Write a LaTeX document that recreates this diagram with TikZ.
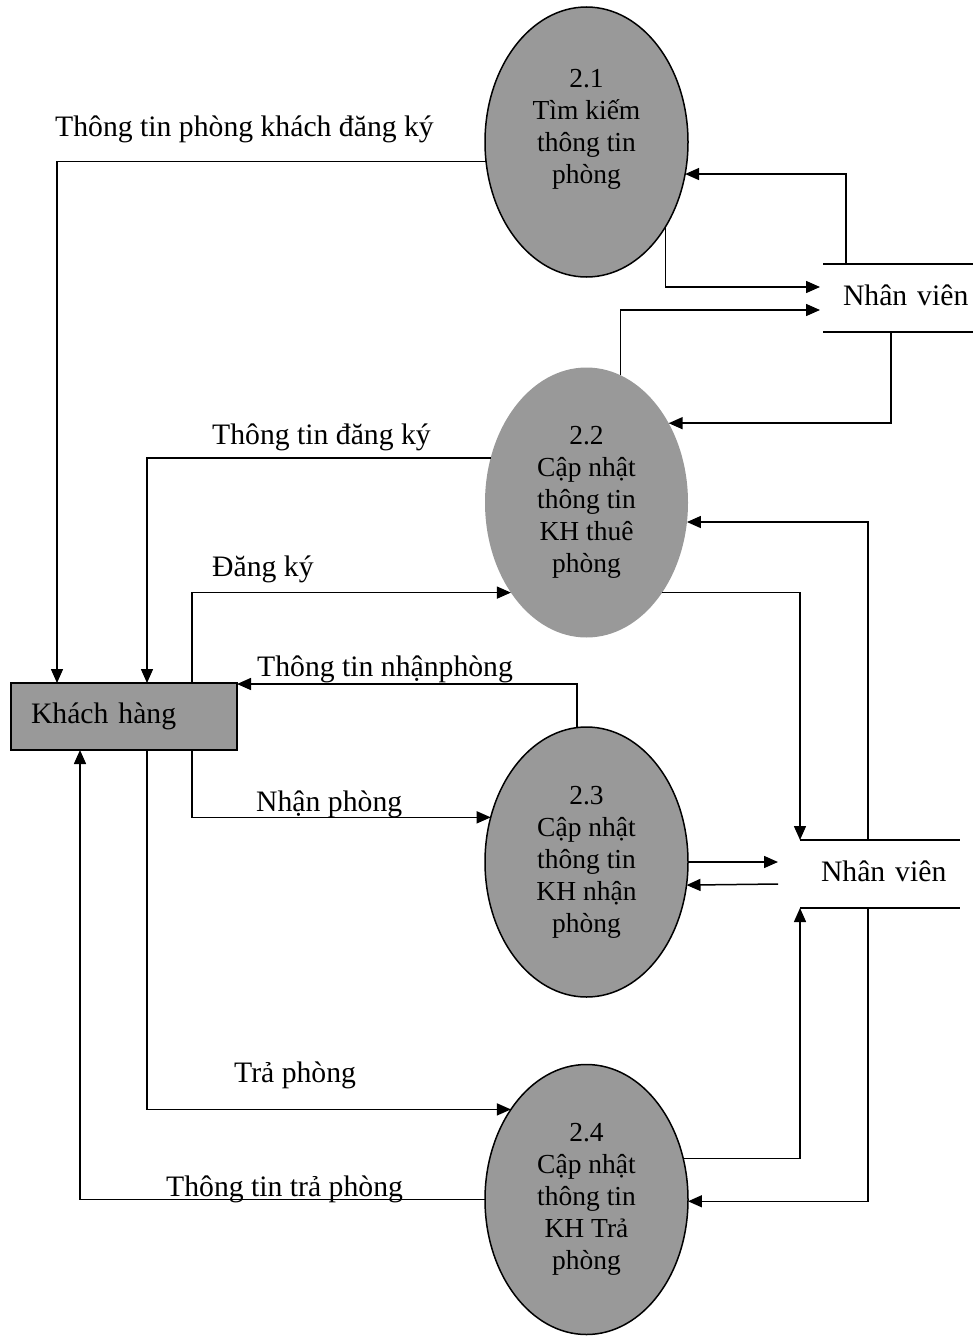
\documentclass[tikz,border=0pt]{standalone}
\usepackage{fontspec}
\setmainfont{Liberation Serif}
\usetikzlibrary{shapes.geometric,arrows.meta}
\definecolor{procfill}{HTML}{999999}
\begin{document}
\begin{tikzpicture}[x=1pt,y=-1pt,
  proc/.style={ellipse, fill=procfill, minimum width=203pt, minimum height=270pt,
    inner sep=0pt, outer sep=0pt, align=center, font=\fontsize{27.5}{32}\selectfont},
  procline/.style={proc, draw=black, line width=1.5pt},
  entity/.style={rectangle, fill=procfill, draw=black, line width=2pt, outer sep=0pt,
    minimum height=67pt, text width=186pt, inner xsep=20pt, align=left,
    font=\fontsize{29.7}{34}\selectfont},
  store/.style={minimum height=68pt, inner xsep=0pt, inner ysep=0pt,
    outer sep=0pt, align=left, font=\fontsize{29.7}{34}\selectfont},
  storeline/.style={line width=1.5pt},
  flowlabel/.style={anchor=base west, inner sep=0pt, font=\fontsize{29.7}{34}\selectfont},
  flow/.style={line width=1.5pt, -{Triangle[length=14pt,width=12pt]}}
]
\useasboundingbox (0,0) rectangle (973,1338);

% processes
\node[procline] (e21) at (586.5,142) {2.1\\Tìm kiếm\\thông tin\\phòng\\\mbox{}};
\node[proc]     (e22) at (586.5,502.5) {2.2\\Cập nhật\\thông tin\\KH thuê\\phòng};
\node[procline] (e23) at (586.5,862) {2.3\\Cập nhật\\thông tin\\KH nhận\\phòng};
\node[procline] (e24) at (586.5,1199.5) {2.4\\Cập nhật\\thông tin\\KH Trả\\phòng};

% external entity
\node[entity] (kh) at (124,716.5) {Khách hàng};

% data stores
\node[store, text width=150pt] (nv1) at (898,298) {\hspace*{20pt}\raisebox{5pt}{Nhân viên}};
\node[store, text width=160pt] (nv2) at (880,874) {\hspace*{21pt}\raisebox{5pt}{Nhân viên}};
\draw[storeline] (nv1.north west) -- (nv1.north east) (nv1.south west) -- (nv1.south east);
\draw[storeline] (nv2.north west) -- (nv2.north east) (nv2.south west) -- (nv2.south east);

% flows
\draw[flow] (e21.191.8) -| ([xshift=-67pt]kh.north);
\draw[flow] ([xshift=-52pt]nv1.north) |- (e21.342.6);
\draw[flow] (e21.313.5) |- ([xshift=-3pt,yshift=11pt]nv1.west);
\draw[flow] (e22.75.3) |- ([xshift=-3pt,yshift=-12pt]nv1.west);
\draw[flow] ([xshift=-7pt]nv1.south) |- (e22.44.6);
\draw[flow] (e22.155.1) -| ([xshift=23pt]kh.north);
\draw[flow] ([xshift=68pt]kh.north) |- (e22.230.8);
\draw[flow] (e23.94.9) |- ([yshift=-1pt]kh.north east);
\draw[flow] ([xshift=68pt]kh.south) |- (e23.155.9);
\draw[flow] (e23.east) -- ([xshift=-22pt,yshift=12pt]nv2.west);
\draw[flow] ([xshift=-22pt,yshift=-10pt]nv2.west) -- (e23.347.6);
\draw[flow] (e22.310.3) -| (nv2.north west);
\draw[flow] ([xshift=-12pt]nv2.north) |- (e22.349);
\draw[flow] ([xshift=23pt]kh.south) |- (e24.130.9);
\draw[flow] (e24.180) -| ([xshift=-44pt]kh.south);
\draw[flow] (e24.23.8) -| (nv2.south west);
\draw[flow] ([xshift=-12pt]nv2.south) |- (e24.359);

% flow labels
\node[flowlabel] (l1) at (55,136) {Thông tin phòng khách đăng ký};
\node[flowlabel] (l2) at (212,444) {Thông tin đăng ký};
\node[flowlabel] (l3) at (212,576) {Đăng ký};
\node[flowlabel] (l4) at (257,676) {Thông tin nhậnphòng};
\node[flowlabel] (l5) at (256,811) {Nhận phòng};
\node[flowlabel] (l6) at (234,1082) {Trả phòng};
\node[flowlabel] (l7) at (166,1196) {Thông tin trả phòng};
\end{tikzpicture}
\end{document}
